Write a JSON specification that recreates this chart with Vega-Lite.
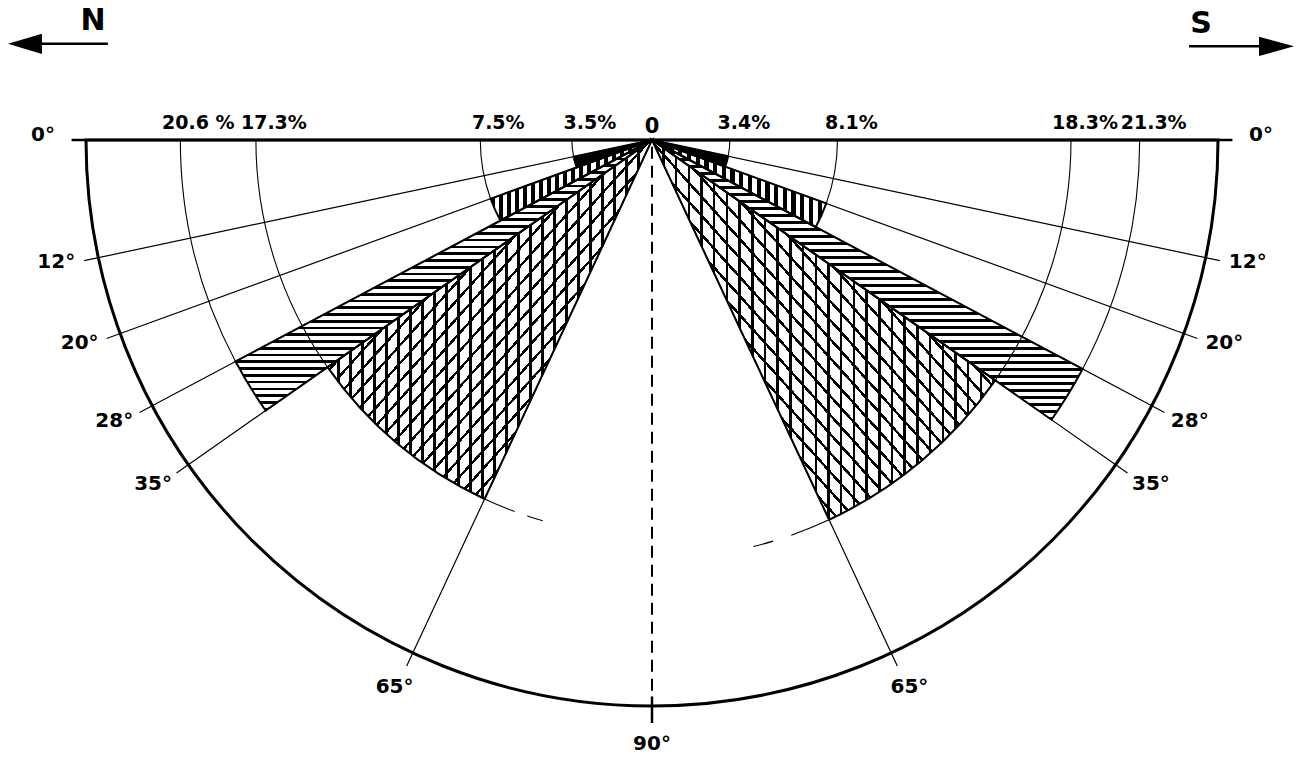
{
  "$schema": "https://vega.github.io/schema/vega-lite/v6.json",
  "width": 1304,
  "height": 280,
  "padding": 0,
  "autosize": {"type": "pad"},
  "background": "white",
  "config": {
    "view": {"stroke": null},
    "text": {"font": "DejaVu Sans", "fontSize": 20, "fontWeight": "bold", "color": "black"}
  },
  "params": [
    {"name": "st", "value": [
      {"offset":0.04,"color":"transparent"},{"offset":0.04,"color":"#000"},{"offset":0.05,"color":"#000"},{"offset":0.05,"color":"transparent"},
      {"offset":0.09,"color":"transparent"},{"offset":0.09,"color":"#000"},{"offset":0.1,"color":"#000"},{"offset":0.1,"color":"transparent"},
      {"offset":0.14,"color":"transparent"},{"offset":0.14,"color":"#000"},{"offset":0.15,"color":"#000"},{"offset":0.15,"color":"transparent"},
      {"offset":0.19,"color":"transparent"},{"offset":0.19,"color":"#000"},{"offset":0.2,"color":"#000"},{"offset":0.2,"color":"transparent"},
      {"offset":0.24,"color":"transparent"},{"offset":0.24,"color":"#000"},{"offset":0.25,"color":"#000"},{"offset":0.25,"color":"transparent"},
      {"offset":0.29,"color":"transparent"},{"offset":0.29,"color":"#000"},{"offset":0.3,"color":"#000"},{"offset":0.3,"color":"transparent"},
      {"offset":0.34,"color":"transparent"},{"offset":0.34,"color":"#000"},{"offset":0.35,"color":"#000"},{"offset":0.35,"color":"transparent"},
      {"offset":0.39,"color":"transparent"},{"offset":0.39,"color":"#000"},{"offset":0.4,"color":"#000"},{"offset":0.4,"color":"transparent"},
      {"offset":0.44,"color":"transparent"},{"offset":0.44,"color":"#000"},{"offset":0.45,"color":"#000"},{"offset":0.45,"color":"transparent"},
      {"offset":0.49,"color":"transparent"},{"offset":0.49,"color":"#000"},{"offset":0.5,"color":"#000"},{"offset":0.5,"color":"transparent"},
      {"offset":0.54,"color":"transparent"},{"offset":0.54,"color":"#000"},{"offset":0.55,"color":"#000"},{"offset":0.55,"color":"transparent"},
      {"offset":0.59,"color":"transparent"},{"offset":0.59,"color":"#000"},{"offset":0.6,"color":"#000"},{"offset":0.6,"color":"transparent"},
      {"offset":0.64,"color":"transparent"},{"offset":0.64,"color":"#000"},{"offset":0.65,"color":"#000"},{"offset":0.65,"color":"transparent"},
      {"offset":0.69,"color":"transparent"},{"offset":0.69,"color":"#000"},{"offset":0.7,"color":"#000"},{"offset":0.7,"color":"transparent"},
      {"offset":0.74,"color":"transparent"},{"offset":0.74,"color":"#000"},{"offset":0.75,"color":"#000"},{"offset":0.75,"color":"transparent"},
      {"offset":0.79,"color":"transparent"},{"offset":0.79,"color":"#000"},{"offset":0.8,"color":"#000"},{"offset":0.8,"color":"transparent"},
      {"offset":0.84,"color":"transparent"},{"offset":0.84,"color":"#000"},{"offset":0.85,"color":"#000"},{"offset":0.85,"color":"transparent"},
      {"offset":0.89,"color":"transparent"},{"offset":0.89,"color":"#000"},{"offset":0.9,"color":"#000"},{"offset":0.9,"color":"transparent"},
      {"offset":0.94,"color":"transparent"},{"offset":0.94,"color":"#000"},{"offset":0.95,"color":"#000"},{"offset":0.95,"color":"transparent"},
      {"offset":0.99,"color":"transparent"},{"offset":0.99,"color":"#000"},{"offset":1,"color":"#000"},{"offset":1,"color":"transparent"}
    ]},
    {"name": "vd", "value": [
      {"offset":0,"color":"#000"},{"offset":0.025,"color":"#000"},{"offset":0.025,"color":"transparent"},{"offset":0.05,"color":"transparent"},
      {"offset":0.05,"color":"#000"},{"offset":0.075,"color":"#000"},{"offset":0.075,"color":"transparent"},{"offset":0.1,"color":"transparent"},
      {"offset":0.1,"color":"#000"},{"offset":0.125,"color":"#000"},{"offset":0.125,"color":"transparent"},{"offset":0.15,"color":"transparent"},
      {"offset":0.15,"color":"#000"},{"offset":0.175,"color":"#000"},{"offset":0.175,"color":"transparent"},{"offset":0.2,"color":"transparent"},
      {"offset":0.2,"color":"#000"},{"offset":0.225,"color":"#000"},{"offset":0.225,"color":"transparent"},{"offset":0.25,"color":"transparent"},
      {"offset":0.25,"color":"#000"},{"offset":0.275,"color":"#000"},{"offset":0.275,"color":"transparent"},{"offset":0.3,"color":"transparent"},
      {"offset":0.3,"color":"#000"},{"offset":0.325,"color":"#000"},{"offset":0.325,"color":"transparent"},{"offset":0.35,"color":"transparent"},
      {"offset":0.35,"color":"#000"},{"offset":0.375,"color":"#000"},{"offset":0.375,"color":"transparent"},{"offset":0.4,"color":"transparent"},
      {"offset":0.4,"color":"#000"},{"offset":0.425,"color":"#000"},{"offset":0.425,"color":"transparent"},{"offset":0.45,"color":"transparent"},
      {"offset":0.45,"color":"#000"},{"offset":0.475,"color":"#000"},{"offset":0.475,"color":"transparent"},{"offset":0.5,"color":"transparent"},
      {"offset":0.5,"color":"#000"},{"offset":0.525,"color":"#000"},{"offset":0.525,"color":"transparent"},{"offset":0.55,"color":"transparent"},
      {"offset":0.55,"color":"#000"},{"offset":0.575,"color":"#000"},{"offset":0.575,"color":"transparent"},{"offset":0.6,"color":"transparent"},
      {"offset":0.6,"color":"#000"},{"offset":0.625,"color":"#000"},{"offset":0.625,"color":"transparent"},{"offset":0.65,"color":"transparent"},
      {"offset":0.65,"color":"#000"},{"offset":0.675,"color":"#000"},{"offset":0.675,"color":"transparent"},{"offset":0.7,"color":"transparent"},
      {"offset":0.7,"color":"#000"},{"offset":0.725,"color":"#000"},{"offset":0.725,"color":"transparent"},{"offset":0.75,"color":"transparent"},
      {"offset":0.75,"color":"#000"},{"offset":0.775,"color":"#000"},{"offset":0.775,"color":"transparent"},{"offset":0.8,"color":"transparent"},
      {"offset":0.8,"color":"#000"},{"offset":0.825,"color":"#000"},{"offset":0.825,"color":"transparent"},{"offset":0.85,"color":"transparent"},
      {"offset":0.85,"color":"#000"},{"offset":0.875,"color":"#000"},{"offset":0.875,"color":"transparent"},{"offset":0.9,"color":"transparent"},
      {"offset":0.9,"color":"#000"},{"offset":0.925,"color":"#000"},{"offset":0.925,"color":"transparent"},{"offset":0.95,"color":"transparent"},
      {"offset":0.95,"color":"#000"},{"offset":0.975,"color":"#000"},{"offset":0.975,"color":"transparent"},{"offset":1,"color":"transparent"}
    ]}
  ],
  "datasets": {
    "sectors": [
      {"side": "N", "dip_from": 12, "dip_to": 20, "pct": 3.5, "label": "3.5%"},
      {"side": "N", "dip_from": 20, "dip_to": 28, "pct": 7.5, "label": "7.5%"},
      {"side": "N", "dip_from": 28, "dip_to": 35, "pct": 20.6, "label": "20.6 %"},
      {"side": "N", "dip_from": 35, "dip_to": 65, "pct": 17.3, "label": "17.3%"},
      {"side": "S", "dip_from": 12, "dip_to": 20, "pct": 3.4, "label": "3.4%"},
      {"side": "S", "dip_from": 20, "dip_to": 28, "pct": 8.1, "label": "8.1%"},
      {"side": "S", "dip_from": 28, "dip_to": 35, "pct": 21.3, "label": "21.3%"},
      {"side": "S", "dip_from": 35, "dip_to": 65, "pct": 18.3, "label": "18.3%"}
    ],
    "ticks": [
      {"side": "N", "dip": 0, "label": "0°"},
      {"side": "N", "dip": 12, "label": "12°"},
      {"side": "N", "dip": 20, "label": "20°"},
      {"side": "N", "dip": 28, "label": "28°"},
      {"side": "N", "dip": 35, "label": "35°"},
      {"side": "N", "dip": 65, "label": "65°"},
      {"side": "N", "dip": 90, "label": "90°"},
      {"side": "S", "dip": 0, "label": "0°"},
      {"side": "S", "dip": 12, "label": "12°"},
      {"side": "S", "dip": 20, "label": "20°"},
      {"side": "S", "dip": 28, "label": "28°"},
      {"side": "S", "dip": 35, "label": "35°"},
      {"side": "S", "dip": 65, "label": "65°"}
    ]
  },
  "data": {"values": [{}]},
  "layer": [
    {
      "data": {"name": "ticks"},
      "transform": [
        {"calculate": "datum.side == 'N' ? datum.dip : 180 - datum.dip", "as": "angle"},
        {"filter": "datum.dip == 0"}
      ],
      "mark": {"type": "arc", "fill": "transparent", "stroke": "black", "strokeWidth": 2.5},
      "encoding": {
        "theta": {"field": "angle", "type": "quantitative", "stack": null, "scale": {"type": "linear", "domain": [0, 180], "range": [4.712389, 1.570796], "nice": false, "zero": false}},
        "theta2": {"field": "angle"},
        "radius": {"datum": 25.35, "type": "quantitative", "scale": {"type": "linear", "domain": [0, 24.72], "range": [0, 566], "nice": false, "zero": true}}
      }
    },
    {
      "data": {"name": "ticks"},
      "transform": [
        {"calculate": "datum.side == 'N' ? datum.dip : 180 - datum.dip", "as": "angle"},
        {"filter": "datum.dip > 0 && datum.dip < 90"}
      ],
      "mark": {"type": "arc", "fill": "transparent", "stroke": "black", "strokeWidth": 1.2},
      "encoding": {
        "theta": {"field": "angle", "type": "quantitative", "stack": null},
        "theta2": {"field": "angle"},
        "radius": {"datum": 25.35, "type": "quantitative"}
      }
    },
    {
      "data": {"name": "ticks"},
      "transform": [
        {"calculate": "datum.side == 'N' ? datum.dip : 180 - datum.dip", "as": "angle"},
        {"joinaggregate": [{"op": "max", "field": "angle", "as": "amax"}]},
        {"filter": "datum.angle == 0"}
      ],
      "mark": {"type": "arc", "fill": "transparent", "stroke": "black", "strokeWidth": 3},
      "encoding": {
        "theta": {"field": "angle", "type": "quantitative", "stack": null},
        "theta2": {"field": "amax"},
        "radius": {"datum": 24.72, "type": "quantitative"}
      }
    },
    {
      "data": {"name": "sectors"},
      "transform": [
        {"calculate": "datum.side == 'N' ? 0 : 180", "as": "a_base"},
        {"calculate": "datum.side == 'N' ? datum.dip_from : 180 - datum.dip_from", "as": "a_from"}
      ],
      "mark": {"type": "arc", "fill": "transparent", "stroke": "black", "strokeWidth": 1.1},
      "encoding": {
        "theta": {"field": "a_base", "type": "quantitative", "stack": null},
        "theta2": {"field": "a_from"},
        "radius": {"field": "pct", "type": "quantitative", "stack": null},
        "radius2": {"field": "pct"}
      }
    },
    {
      "data": {"name": "sectors"},
      "transform": [{"filter": "datum.side == 'N' && datum.dip_from == 35"}],
      "mark": {"type": "arc", "fill": "transparent", "stroke": "black", "strokeWidth": 1.1, "strokeDash": [32.44, 13.56]},
      "encoding": {
        "theta": {"field": "dip_to", "type": "quantitative", "stack": null},
        "theta2": {"datum": 74},
        "radius": {"field": "pct", "type": "quantitative", "stack": null},
        "radius2": {"field": "pct"}
      }
    },
    {
      "data": {"name": "sectors"},
      "transform": [
        {"filter": "datum.side == 'S' && datum.dip_from == 35"},
        {"calculate": "180 - datum.dip_to", "as": "a_to"}
      ],
      "mark": {"type": "arc", "fill": "transparent", "stroke": "black", "strokeWidth": 1.1, "strokeDash": [40.88, 19.12]},
      "encoding": {
        "theta": {"field": "a_to", "type": "quantitative", "stack": null},
        "theta2": {"datum": 104},
        "radius": {"field": "pct", "type": "quantitative", "stack": null},
        "radius2": {"field": "pct"}
      }
    },
    {
      "data": {"name": "sectors"},
      "transform": [
        {"filter": "datum.dip_from == 12"},
        {"calculate": "datum.side == 'N' ? datum.dip_from : 180 - datum.dip_from", "as": "a_from"},
        {"calculate": "datum.side == 'N' ? datum.dip_to : 180 - datum.dip_to", "as": "a_to"}
      ],
      "mark": {"type": "arc", "fill": "black"},
      "encoding": {
        "theta": {"field": "a_from", "type": "quantitative", "stack": null},
        "theta2": {"field": "a_to"},
        "radius": {"field": "pct", "type": "quantitative", "stack": null}
      }
    },
    {
      "data": {"name": "sectors"},
      "transform": [
        {"filter": "datum.dip_from == 20"},
        {"calculate": "datum.side == 'N' ? datum.dip_from : 180 - datum.dip_from", "as": "a_from"},
        {"calculate": "datum.side == 'N' ? datum.dip_to : 180 - datum.dip_to", "as": "a_to"}
      ],
      "mark": {"type": "arc", "fill": {"expr": "{gradient:'linear',x1:0,y1:0,x2:1,y2:0,stops:vd}"}},
      "encoding": {
        "theta": {"field": "a_from", "type": "quantitative", "stack": null},
        "theta2": {"field": "a_to"},
        "radius": {"field": "pct", "type": "quantitative", "stack": null}
      }
    },
    {
      "data": {"name": "sectors"},
      "transform": [
        {"filter": "datum.dip_from == 28"},
        {"calculate": "datum.side == 'N' ? datum.dip_from : 180 - datum.dip_from", "as": "a_from"},
        {"calculate": "datum.side == 'N' ? datum.dip_to : 180 - datum.dip_to", "as": "a_to"}
      ],
      "mark": {"type": "arc", "fill": {"expr": "{gradient:'linear',x1:1,y1:0,x2:1,y2:1,stops:st}"}},
      "encoding": {
        "theta": {"field": "a_from", "type": "quantitative", "stack": null},
        "theta2": {"field": "a_to"},
        "radius": {"field": "pct", "type": "quantitative", "stack": null}
      }
    },
    {
      "data": {"name": "sectors"},
      "transform": [
        {"filter": "datum.dip_from == 28"},
        {"calculate": "datum.side == 'N' ? datum.dip_from : 180 - datum.dip_from", "as": "a_from"},
        {"calculate": "datum.side == 'N' ? datum.dip_to : 180 - datum.dip_to", "as": "a_to"}
      ],
      "mark": {"type": "arc", "fill": {"expr": "{gradient:'linear',x1:1,y1:0.025,x2:1,y2:1.025,stops:st}"}},
      "encoding": {
        "theta": {"field": "a_from", "type": "quantitative", "stack": null},
        "theta2": {"field": "a_to"},
        "radius": {"field": "pct", "type": "quantitative", "stack": null}
      }
    },
    {
      "data": {"name": "sectors"},
      "transform": [
        {"filter": "datum.dip_from == 35"},
        {"calculate": "datum.side == 'N' ? datum.dip_from : 180 - datum.dip_from", "as": "a_from"},
        {"calculate": "datum.side == 'N' ? datum.dip_to : 180 - datum.dip_to", "as": "a_to"}
      ],
      "mark": {"type": "arc", "fill": {"expr": "{gradient:'linear',x1:0,y1:0,x2:0.74,y2:0,stops:st}"}},
      "encoding": {
        "theta": {"field": "a_from", "type": "quantitative", "stack": null},
        "theta2": {"field": "a_to"},
        "radius": {"field": "pct", "type": "quantitative", "stack": null}
      }
    },
    {
      "data": {"name": "sectors"},
      "transform": [
        {"filter": "datum.dip_from == 35"},
        {"calculate": "datum.side == 'N' ? datum.dip_from : 180 - datum.dip_from", "as": "a_from"},
        {"calculate": "datum.side == 'N' ? datum.dip_to : 180 - datum.dip_to", "as": "a_to"}
      ],
      "mark": {"type": "arc", "fill": {"expr": "{gradient:'linear',x1:0.74,y1:0,x2:1.48,y2:0,stops:st}"}},
      "encoding": {
        "theta": {"field": "a_from", "type": "quantitative", "stack": null},
        "theta2": {"field": "a_to"},
        "radius": {"field": "pct", "type": "quantitative", "stack": null}
      }
    },
    {
      "data": {"name": "sectors"},
      "transform": [{"filter": "datum.side == 'N' && datum.dip_from == 35"}],
      "mark": {"type": "arc", "fill": {"expr": "{gradient:'linear',x1:0.25,y1:0.25,x2:0.75,y2:0.75,stops:st}"}},
      "encoding": {
        "theta": {"field": "dip_from", "type": "quantitative", "stack": null},
        "theta2": {"field": "dip_to"},
        "radius": {"field": "pct", "type": "quantitative", "stack": null}
      }
    },
    {
      "data": {"name": "sectors"},
      "transform": [
        {"filter": "datum.side == 'S' && datum.dip_from == 35"},
        {"calculate": "180 - datum.dip_from", "as": "a_from"},
        {"calculate": "180 - datum.dip_to", "as": "a_to"}
      ],
      "mark": {"type": "arc", "fill": {"expr": "{gradient:'linear',x1:0.25,y1:0.75,x2:0.75,y2:0.25,stops:st}"}},
      "encoding": {
        "theta": {"field": "a_from", "type": "quantitative", "stack": null},
        "theta2": {"field": "a_to"},
        "radius": {"field": "pct", "type": "quantitative", "stack": null}
      }
    },
    {
      "data": {"name": "sectors"},
      "transform": [
        {"calculate": "datum.side == 'N' ? datum.dip_from : 180 - datum.dip_from", "as": "a_from"},
        {"calculate": "datum.side == 'N' ? datum.dip_to : 180 - datum.dip_to", "as": "a_to"}
      ],
      "mark": {"type": "arc", "fill": "transparent", "stroke": "black", "strokeWidth": 2},
      "encoding": {
        "theta": {"field": "a_from", "type": "quantitative", "stack": null},
        "theta2": {"field": "a_to"},
        "radius": {"field": "pct", "type": "quantitative", "stack": null}
      }
    },
    {
      "data": {"name": "ticks"},
      "transform": [{"calculate": "datum.side == 'N' ? datum.dip : 180 - datum.dip", "as": "angle"}],
      "mark": {"type": "text", "align": "center", "baseline": "middle", "dy": -5},
      "encoding": {
        "theta": {"field": "angle", "type": "quantitative"},
        "radius": {"datum": 26.6, "type": "quantitative"},
        "text": {"field": "label"}
      }
    },
    {
      "data": {"name": "sectors"},
      "transform": [
        {"filter": "datum.side == 'N'"},
        {"calculate": "0", "as": "a_base"}
      ],
      "mark": {"type": "text", "align": "center", "baseline": "alphabetic", "dx": 18, "dy": -11, "fontSize": 19},
      "encoding": {
        "theta": {"field": "a_base", "type": "quantitative"},
        "radius": {"field": "pct", "type": "quantitative"},
        "text": {"field": "label"}
      }
    },
    {
      "data": {"name": "sectors"},
      "transform": [
        {"filter": "datum.side == 'S'"},
        {"calculate": "180", "as": "a_base"}
      ],
      "mark": {"type": "text", "align": "center", "baseline": "alphabetic", "dx": 14, "dy": -11, "fontSize": 19},
      "encoding": {
        "theta": {"field": "a_base", "type": "quantitative"},
        "radius": {"field": "pct", "type": "quantitative"},
        "text": {"field": "label"}
      }
    },
    {
      "mark": {"type": "rule", "strokeDash": [12, 7], "strokeWidth": 2, "color": "black"},
      "encoding": {
        "x": {"datum": 0, "type": "quantitative", "axis": null, "scale": {"domain": [-28.47, 28.47], "nice": false, "zero": false}},
        "y": {"datum": -0.3, "type": "quantitative", "axis": null, "scale": {"domain": [-6.114, 6.114], "nice": false, "zero": false}},
        "y2": {"datum": -25.46}
      }
    },
    {
      "mark": {"type": "rule", "strokeWidth": 2.5, "color": "black"},
      "encoding": {
        "x": {"datum": 0, "type": "quantitative", "axis": null},
        "y": {"datum": -24.3, "type": "quantitative", "axis": null},
        "y2": {"datum": -25.46}
      }
    },
    {
      "mark": {"type": "text", "text": "0", "align": "center", "baseline": "alphabetic", "fontSize": 21},
      "encoding": {
        "x": {"datum": 0, "type": "quantitative", "axis": null},
        "y": {"datum": 0.3, "type": "quantitative", "axis": null}
      }
    },
    {
      "mark": {"type": "text", "text": "N", "fontSize": 30, "align": "center", "baseline": "alphabetic"},
      "encoding": {
        "x": {"datum": -24.41, "type": "quantitative", "axis": null},
        "y": {"datum": 4.8, "type": "quantitative", "axis": null}
      }
    },
    {
      "mark": {"type": "text", "text": "S", "fontSize": 30, "align": "center", "baseline": "alphabetic"},
      "encoding": {
        "x": {"datum": 23.97, "type": "quantitative", "axis": null},
        "y": {"datum": 4.67, "type": "quantitative", "axis": null}
      }
    },
    {
      "mark": {"type": "rule", "strokeWidth": 2.5, "color": "black"},
      "encoding": {
        "x": {"datum": -27.0, "type": "quantitative", "axis": null},
        "x2": {"datum": -23.76},
        "y": {"datum": 4.2, "type": "quantitative", "axis": null}
      }
    },
    {
      "mark": {"type": "point", "shape": "M-1,0L1,-0.6L1,0.6Z", "size": 1156, "filled": true, "color": "black", "opacity": 1, "strokeWidth": 0},
      "encoding": {
        "x": {"datum": -27.38, "type": "quantitative", "axis": null},
        "y": {"datum": 4.2, "type": "quantitative", "axis": null}
      }
    },
    {
      "mark": {"type": "rule", "strokeWidth": 2.5, "color": "black"},
      "encoding": {
        "x": {"datum": 23.45, "type": "quantitative", "axis": null},
        "x2": {"datum": 27.0},
        "y": {"datum": 4.09, "type": "quantitative", "axis": null}
      }
    },
    {
      "mark": {"type": "point", "shape": "M1,0L-1,-0.55L-1,0.55Z", "size": 1225, "filled": true, "color": "black", "opacity": 1, "strokeWidth": 0},
      "encoding": {
        "x": {"datum": 27.27, "type": "quantitative", "axis": null},
        "y": {"datum": 4.09, "type": "quantitative", "axis": null}
      }
    }
  ]
}
